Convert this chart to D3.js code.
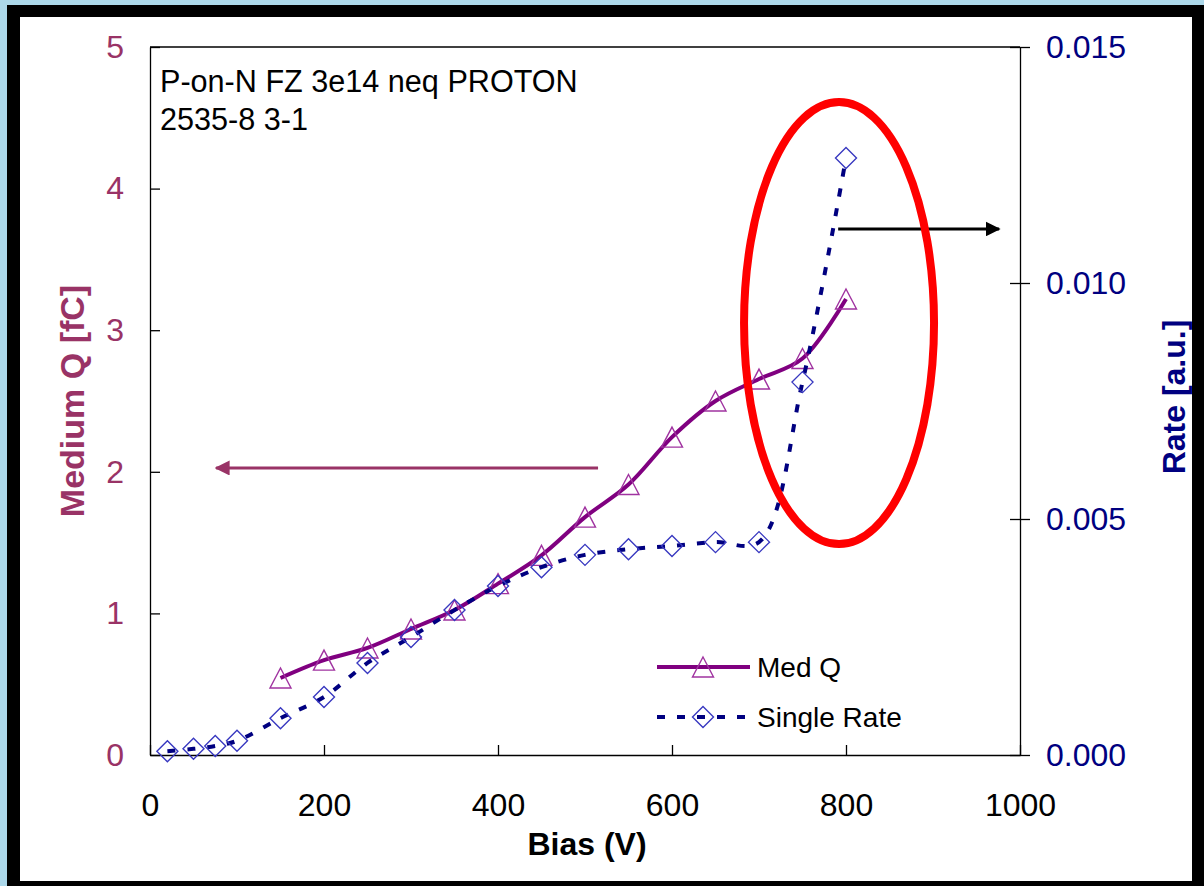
<!DOCTYPE html>
<html>
<head>
<meta charset="utf-8">
<script src="https://cdn.jsdelivr.net/npm/d3@7"></script>
<style>
  html, body { margin: 0; padding: 0; background: #acd8ea; }
  svg { display: block; }
  text { font-family: "Liberation Sans", Arial, sans-serif; }
</style>
</head>
<body>
<svg id="chart" width="1204" height="886"></svg>
<script>
// ---- data ----
const biasQ = [150, 200, 250, 300, 350, 400, 450, 500, 550, 600, 650, 700, 750, 800];
const medQ  = [0.544, 0.67, 0.756, 0.89, 1.024, 1.21, 1.41, 1.68, 1.91, 2.245, 2.5, 2.655, 2.80, 3.22];

const biasRate   = [20, 50, 75, 100, 150, 200, 250, 300, 350, 400, 450, 500, 550, 600, 650, 700, 750, 800];
const singleRate = [0.00008, 0.00013, 0.00019, 0.0003, 0.00078, 0.00123, 0.00195, 0.0025, 0.00307, 0.00358,
                    0.00398, 0.00424, 0.00436, 0.00443, 0.00451, 0.00451, 0.0079, 0.01265];

const xTicks     = [0, 200, 400, 600, 800, 1000];
const leftTicks  = [0, 1, 2, 3, 4, 5];
const rightTicks = [0, 0.005, 0.010, 0.015];

const seriesNames = ["Med Q", "Single Rate"];
const noteLines = ["P-on-N FZ 3e14 neq PROTON", "2535-8 3-1"];

// ---- layout ----
const svg = d3.select("#chart");
const W = 1204, H = 886;
const plot = { left: 150, right: 1020, top: 47, bottom: 755 };

const cLeft = "#993366", cRight = "#000080", cQ = "#800080", cTri = "#a033a0", cDia = "#3838c0";

// frame
svg.append("rect").attr("x", 0).attr("y", 0).attr("width", W).attr("height", H).attr("fill", "#acd8ea");
svg.append("rect").attr("x", 7).attr("y", 5).attr("width", W - 7).attr("height", H - 5).attr("fill", "#000");
svg.append("rect").attr("x", 20).attr("y", 17).attr("width", W - 20 - 12).attr("height", H - 17 - 5).attr("fill", "#fff");

const x  = d3.scaleLinear().domain([0, 1000]).range([plot.left, plot.right]);
const yL = d3.scaleLinear().domain([0, 5]).range([plot.bottom, plot.top]);
const yR = d3.scaleLinear().domain([0, 0.015]).range([plot.bottom, plot.top]);

// plot box top line
svg.append("line").attr("x1", plot.left).attr("x2", plot.right).attr("y1", plot.top).attr("y2", plot.top)
  .attr("stroke", "#000").attr("stroke-width", 1.3);

// x axis (ticks inward)
const gx = svg.append("g").attr("transform", `translate(0,${plot.bottom})`)
  .call(d3.axisBottom(x).tickValues(xTicks).tickSizeInner(-10).tickSizeOuter(0).tickPadding(38).tickFormat(d3.format("d")));
gx.select(".domain").attr("stroke", "#000").attr("stroke-width", 1.3);
gx.selectAll(".tick line").attr("stroke", "#000").attr("stroke-width", 1.3);
gx.selectAll(".tick text").attr("font-size", 32).attr("fill", "#000").attr("font-family", "Liberation Sans, Arial");

// left axis (ticks inward)
const gl = svg.append("g").attr("transform", `translate(${plot.left},0)`)
  .call(d3.axisLeft(yL).tickValues(leftTicks).tickSizeInner(-10).tickSizeOuter(0).tickPadding(26).tickFormat(d3.format("d")));
gl.select(".domain").attr("stroke", "#000").attr("stroke-width", 1.3);
gl.selectAll(".tick line").attr("stroke", "#000").attr("stroke-width", 1.3);
gl.selectAll(".tick text").attr("font-size", 32).attr("fill", cLeft).attr("font-family", "Liberation Sans, Arial");

// right axis (cross ticks)
const gr = svg.append("g").attr("transform", `translate(${plot.right},0)`)
  .call(d3.axisRight(yR).tickValues(rightTicks).tickSizeInner(10).tickSizeOuter(0).tickPadding(16).tickFormat(d3.format(".3f")));
gr.select(".domain").attr("stroke", "#000").attr("stroke-width", 1.3);
gr.selectAll(".tick line").attr("x1", -10).attr("x2", 10).attr("stroke", "#000").attr("stroke-width", 1.3);
gr.selectAll(".tick text").attr("font-size", 32).attr("fill", cRight).attr("font-family", "Liberation Sans, Arial");

// axis titles
svg.append("text").attr("x", x(500) + 2).attr("y", 855).attr("text-anchor", "middle")
  .attr("font-size", 32).attr("font-weight", "bold").attr("fill", "#000").text("Bias (V)");
svg.append("text").attr("transform", `translate(84,${(plot.top + plot.bottom) / 2}) rotate(-90)`)
  .attr("text-anchor", "middle").attr("font-size", 34).attr("font-weight", "bold").attr("fill", cLeft).text("Medium Q [fC]");
svg.append("text").attr("transform", `translate(1185,${(plot.top + plot.bottom) / 2 - 4}) rotate(-90)`)
  .attr("text-anchor", "middle").attr("font-size", 32).attr("font-weight", "bold").attr("fill", cRight).text("Rate [a.u.]");

// note text
svg.append("g").selectAll("text").data(noteLines).join("text")
  .attr("x", plot.left + 10).attr("y", (d, i) => 92 + i * 38)
  .attr("font-size", 30.6).attr("fill", "#000").text(d => d);

// ---- series ----
const qPts = biasQ.map((b, i) => [x(b), yL(medQ[i])]);
const rPts = biasRate.map((b, i) => [x(b), yR(singleRate[i])]);

svg.append("path").attr("d", d3.line().curve(d3.curveCatmullRom.alpha(0.5))(qPts))
  .attr("fill", "none").attr("stroke", cQ).attr("stroke-width", 4);

const triPath = "M0,-10 L10.5,10 L-10.5,10 Z";
const diaPath = "M0,-10.5 L10.5,0 L0,10.5 L-10.5,0 Z";

svg.append("g").selectAll("path").data(qPts).join("path")
  .attr("transform", d => `translate(${d[0]},${d[1]})`).attr("d", triPath)
  .attr("fill", "none").attr("stroke", cTri).attr("stroke-width", 1.4);

svg.append("path").attr("d", d3.line().curve(d3.curveCatmullRom.alpha(0.5))(rPts))
  .attr("fill", "none").attr("stroke", cRight).attr("stroke-width", 4).attr("stroke-dasharray", "8,12");

svg.append("g").selectAll("path").data(rPts).join("path")
  .attr("transform", d => `translate(${d[0]},${d[1]})`).attr("d", diaPath)
  .attr("fill", "none").attr("stroke", cDia).attr("stroke-width", 1.4);

// ---- legend ----
const leg = svg.append("g");
const legRows = [
  { name: seriesNames[0], y: 667, stroke: cQ, dash: null, marker: triPath, mc: cTri },
  { name: seriesNames[1], y: 717, stroke: cRight, dash: "8,12", marker: diaPath, mc: cDia }
];
legRows.forEach(r => {
  leg.append("line").attr("x1", 657).attr("x2", 750).attr("y1", r.y).attr("y2", r.y)
    .attr("stroke", r.stroke).attr("stroke-width", 4).attr("stroke-dasharray", r.dash);
  leg.append("path").attr("transform", `translate(703,${r.y})`).attr("d", r.marker)
    .attr("fill", "none").attr("stroke", r.mc).attr("stroke-width", 1.4);
  leg.append("text").attr("x", 757).attr("y", r.y + 10).attr("font-size", 28).attr("fill", "#000").text(r.name);
});

// ---- annotations ----
const defs = svg.append("defs");
function marker(id, color) {
  defs.append("marker").attr("id", id).attr("viewBox", "0 0 10 10").attr("refX", 9).attr("refY", 5)
    .attr("markerWidth", 5).attr("markerHeight", 5).attr("markerUnits", "strokeWidth").attr("orient", "auto")
    .append("path").attr("d", "M0,0 L10,5 L0,10 Z").attr("fill", color);
}
marker("arrP", cLeft);
marker("arrK", "#000");

svg.append("line").attr("x1", x(515)).attr("x2", x(76)).attr("y1", yL(2.027)).attr("y2", yL(2.027))
  .attr("stroke", cLeft).attr("stroke-width", 3).attr("marker-end", "url(#arrP)");
svg.append("line").attr("x1", x(791)).attr("x2", x(976)).attr("y1", yL(3.715)).attr("y2", yL(3.715))
  .attr("stroke", "#000").attr("stroke-width", 3).attr("marker-end", "url(#arrK)");

svg.append("ellipse").attr("cx", x(792)).attr("cy", yL(3.05)).attr("rx", 95).attr("ry", 221)
  .attr("fill", "none").attr("stroke", "#ff0000").attr("stroke-width", 8);
</script>
</body>
</html>
